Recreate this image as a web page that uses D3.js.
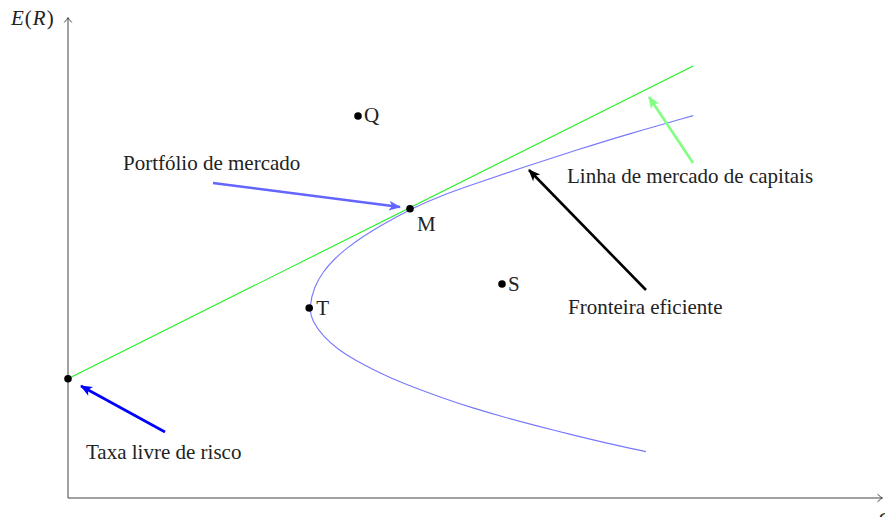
<!DOCTYPE html>
<html>
<head>
<meta charset="utf-8">
<script src="https://cdn.jsdelivr.net/npm/d3@7"></script>
<style>
  body { margin: 0; background: #fff; }
  svg { display: block; }
  text { font-family: "Liberation Serif", "DejaVu Serif", serif; fill: #222; }
</style>
</head>
<body>
<script>
// fronteira eficiente (sigma, E)
const curveSigma = [14.45, 13.42, 12.56, 11.73, 10.87, 10.06, 9.50, 8.40, 7.72, 7.17, 6.77, 6.38, 6.09, 6.03, 6.15, 6.38, 6.63, 6.96, 7.36, 7.85, 8.55, 9.38, 10.22, 11.47, 12.72, 13.97, 15.63];
const curveE     = [1.16, 1.38, 1.59, 1.80, 2.03, 2.27, 2.45, 2.85, 3.16, 3.45, 3.70, 4.03, 4.45, 4.76, 5.28, 5.66, 5.95, 6.24, 6.53, 6.83, 7.22, 7.58, 7.87, 8.30, 8.70, 9.09, 9.56];

// linha de mercado de capitais
const cmlSigma = [0, 15.63];
const cmlE = [2.98, 10.8];

// carteiras
const pointNames = ["Q", "M", "T", "S"];
const pointSigma = [7.25, 8.55, 6.03, 10.85];
const pointE = [9.55, 7.23, 4.75, 5.35];
const riskFree = { sigma: 0, e: 2.98 };

// anotacoes
const notes = ["Portfólio de mercado", "Linha de mercado de capitais", "Fronteira eficiente", "Taxa livre de risco"];
const noteSigma = [1.375, 12.475, 12.5, 0.45];
const noteE = [8.2, 7.875, 4.6, 0.975];
const arrowFrom = [[3.625, 7.875], [15.625, 8.375], [14.45, 5.2], [2.425, 1.65]];
const arrowTo = [[8.3, 7.275], [14.525, 10.025], [11.525, 8.2], [0.325, 2.8]];
const arrowColors = ["#6464ff", "#80ff80", "#000000", "#0000ff"];

const width = 885, height = 517;

let svg = d3.select("body").append("svg")
    .attr("width", width)
    .attr("height", height);

let x = d3.scaleLinear().domain([0, 20.4]).range([68, 884]);
let y = d3.scaleLinear().domain([0, 12]).range([498, 18]);

let defs = svg.append("defs");

// seta aberta dos eixos
defs.append("marker")
    .attr("id", "axisArrow")
    .attr("viewBox", "-6 -5 8 10")
    .attr("refX", 0).attr("refY", 0)
    .attr("markerWidth", 8).attr("markerHeight", 10)
    .attr("markerUnits", "userSpaceOnUse")
    .attr("orient", "auto")
    .append("path")
    .attr("d", "M-4.5,-3.8 Q-1,-0.6 0.5,0 Q-1,0.6 -4.5,3.8")
    .attr("fill", "none")
    .attr("stroke", "#444")
    .attr("stroke-width", 1);

// setas cheias das anotacoes
arrowColors.forEach((c, i) => {
    defs.append("marker")
        .attr("id", "noteArrow" + i)
        .attr("viewBox", "-12 -6 14 12")
        .attr("refX", 0).attr("refY", 0)
        .attr("markerWidth", 14).attr("markerHeight", 12)
        .attr("markerUnits", "userSpaceOnUse")
        .attr("orient", "auto")
        .append("path")
        .attr("d", "M1,0 L-11,-5 L-8,0 L-11,5 Z")
        .attr("fill", c);
});

// eixos
svg.append("line")
    .attr("x1", x(0)).attr("y1", y(0))
    .attr("x2", x(0)).attr("y2", y(12))
    .attr("stroke", "#444").attr("stroke-width", 1)
    .attr("marker-end", "url(#axisArrow)");

svg.append("line")
    .attr("x1", x(0)).attr("y1", y(0))
    .attr("x2", x(20.35)).attr("y2", y(0))
    .attr("stroke", "#444").attr("stroke-width", 1)
    .attr("marker-end", "url(#axisArrow)");

let eLabel = svg.append("text")
    .attr("x", 11).attr("y", 25)
    .style("font-size", "21px")
    .style("letter-spacing", "1px");
eLabel.append("tspan").style("font-style", "italic").text("E");
eLabel.append("tspan").text("(");
eLabel.append("tspan").style("font-style", "italic").text("R");
eLabel.append("tspan").text(")");

svg.append("text")
    .attr("x", 879).attr("y", 523)
    .style("font-size", "21px")
    .style("font-style", "italic")
    .text("σ");

// fronteira
let line = d3.line()
    .x(d => x(d[0]))
    .y(d => y(d[1]))
    .curve(d3.curveBasis);

let curveData = curveSigma.map((s, i) => [s, curveE[i]]);
svg.append("path")
    .datum(curveData)
    .attr("d", line)
    .attr("fill", "none")
    .attr("stroke", "#7878ff")
    .attr("stroke-width", 1.1);

// LMC
svg.append("path")
    .datum(cmlSigma.map((s, i) => [s, cmlE[i]]))
    .attr("d", d3.line().x(d => x(d[0])).y(d => y(d[1])))
    .attr("fill", "none")
    .attr("stroke", "#22ee22")
    .attr("stroke-width", 1.1);

// pontos
pointNames.forEach((n, i) => {
    svg.append("circle")
        .attr("cx", x(pointSigma[i]))
        .attr("cy", y(pointE[i]))
        .attr("r", 3.8)
        .attr("fill", "#000");
});

svg.append("circle")
    .attr("cx", x(riskFree.sigma))
    .attr("cy", y(riskFree.e))
    .attr("r", 3.8)
    .attr("fill", "#000");

// rotulos dos pontos (M fica abaixo a direita)
let labelDx = [6, 7, 7, 6];
let labelDy = [6, 22, 7, 7];
pointNames.forEach((n, i) => {
    svg.append("text")
        .attr("x", x(pointSigma[i]) + labelDx[i])
        .attr("y", y(pointE[i]) + labelDy[i])
        .style("font-size", "21px")
        .text(n);
});

// anotacoes
notes.forEach((t, i) => {
    svg.append("line")
        .attr("x1", x(arrowFrom[i][0])).attr("y1", y(arrowFrom[i][1]))
        .attr("x2", x(arrowTo[i][0])).attr("y2", y(arrowTo[i][1]))
        .attr("stroke", arrowColors[i])
        .attr("stroke-width", 2.6)
        .attr("marker-end", "url(#noteArrow" + i + ")");

    svg.append("text")
        .attr("x", x(noteSigma[i]))
        .attr("y", y(noteE[i]))
        .style("font-size", "21px")
        .text(t);
});
</script>
</body>
</html>
